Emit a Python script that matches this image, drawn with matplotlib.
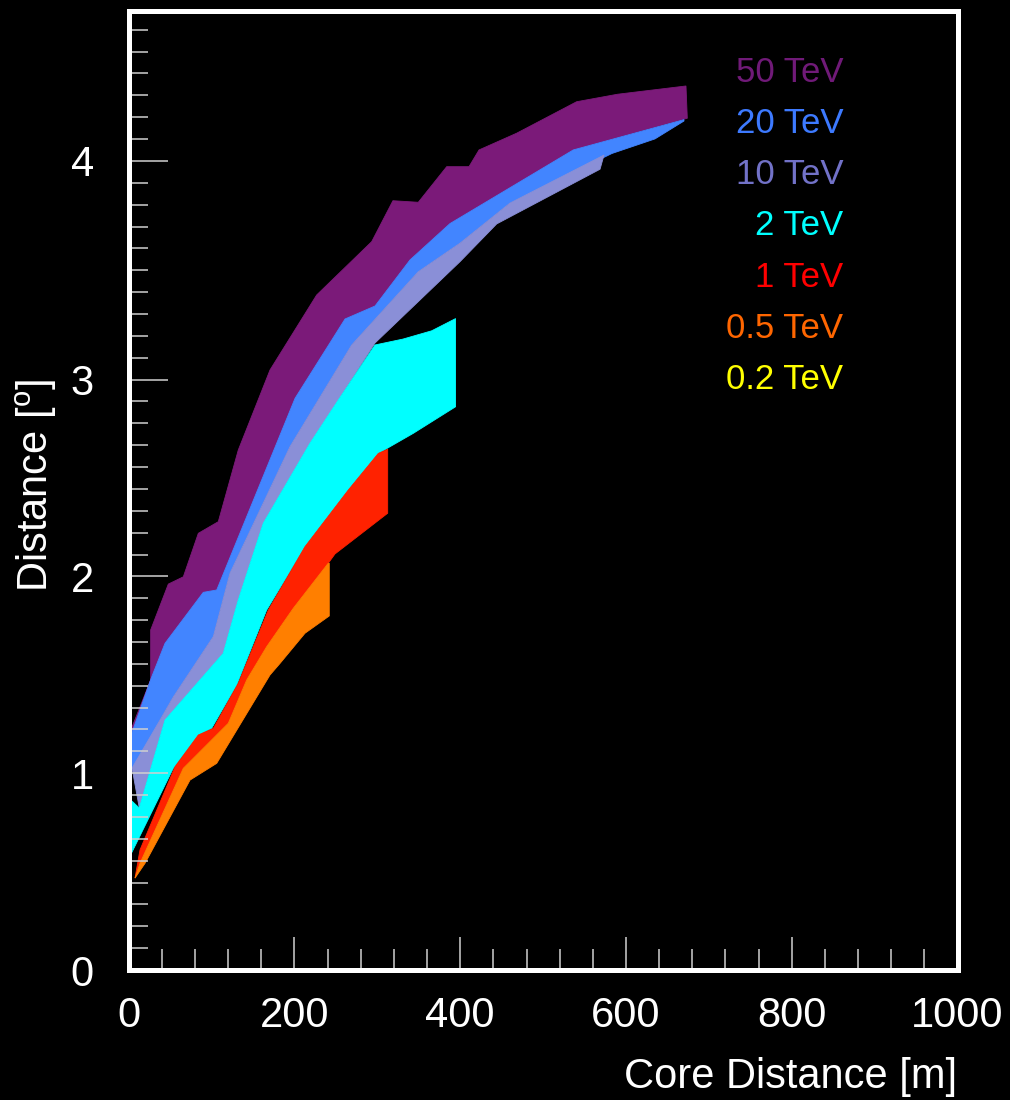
import matplotlib.pyplot as plt
from matplotlib.ticker import MultipleLocator, FixedLocator

plt.rcParams['font.family'] = ['Liberation Sans', 'DejaVu Sans']
plt.rcParams['mathtext.default'] = 'regular'

# band edges: x = core distance [m], y = distance [deg]
e50_up_x = [3.6, 26.5, 26.5, 47.8, 65.9, 84.0, 108.1, 132.2, 170.5, 226.8, 293.2, 318.8, 349.4, 383.7, 410.6, 422.7, 468.1, 540.5, 589.8, 672.4]
e50_up_y = [1.23, 1.474, 1.728, 1.961, 1.998, 2.219, 2.278, 2.642, 3.049, 3.430, 3.701, 3.909, 3.901, 4.082, 4.082, 4.167, 4.252, 4.412, 4.450, 4.492]
e50_lo_x = [3.6, 27.8, 43.8, 90.0, 106.2, 200.7, 261.0, 297.2, 339.4, 387.7, 536.4, 674.0]
e50_lo_y = [1.203, 1.490, 1.660, 1.919, 1.931, 2.905, 3.308, 3.374, 3.608, 3.793, 4.167, 4.328]

e20_up_x = [3.6, 27.8, 43.8, 90.0, 106.2, 200.7, 261.0, 297.2, 339.4, 387.7, 536.4, 670.0]
e20_up_y = [1.203, 1.490, 1.660, 1.919, 1.931, 2.905, 3.308, 3.374, 3.608, 3.793, 4.167, 4.321]
e20_lo_x = [2.8, 7.6, 37.8, 53.8, 102.1, 122.2, 194.6, 269.1, 349.4, 399.7, 460.1, 583.1, 635.0, 670.0]
e20_lo_y = [1.026, 1.016, 1.270, 1.387, 1.694, 2.016, 2.659, 3.176, 3.548, 3.693, 3.897, 4.149, 4.223, 4.314]

e10_up_x = [4.0, 37.8, 53.8, 102.1, 122.2, 194.6, 269.1, 349.4, 399.7, 460.1, 573.5]
e10_up_y = [1.026, 1.270, 1.387, 1.694, 2.016, 2.659, 3.176, 3.548, 3.693, 3.897, 4.141]
e10_lo_x = [12.8, 43.8, 114.1, 132.2, 162.4, 218.7, 252.9, 297.2, 399.7, 444.0, 568.7]
e10_lo_y = [0.823, 1.270, 1.609, 1.880, 2.270, 2.676, 2.896, 3.186, 3.599, 3.791, 4.069]

e2_up_x = [0.0, 12.8, 43.8, 114.1, 132.2, 162.4, 218.7, 252.9, 297.2, 331.0, 365.6, 394.4]
e2_up_y = [0.874, 0.823, 1.270, 1.609, 1.880, 2.270, 2.676, 2.896, 3.176, 3.206, 3.248, 3.310]
e2_lo_x = [0.0, 53.8, 84.0, 100.1, 130.3, 166.5, 212.7, 265.0, 301.2, 343.4, 394.4]
e2_lo_y = [0.565, 1.025, 1.194, 1.228, 1.448, 1.829, 2.151, 2.439, 2.625, 2.727, 2.862]

e1_up_x = [7.6, 13.6, 55.9, 84.0, 102.1, 132.2, 168.4, 212.7, 265.0, 301.2, 312.5]
e1_up_y = [0.467, 0.610, 1.033, 1.194, 1.228, 1.457, 1.829, 2.151, 2.439, 2.625, 2.646]
e1_lo_x = [7.6, 13.6, 65.9, 120.2, 142.4, 166.5, 198.6, 240.8, 248.9, 312.5]
e1_lo_y = [0.467, 0.542, 1.025, 1.254, 1.474, 1.643, 1.838, 2.067, 2.114, 2.321]

e05_up_x = [7.6, 13.6, 65.9, 120.2, 142.4, 166.5, 198.6, 240.8, 242.0]
e05_up_y = [0.467, 0.542, 1.025, 1.254, 1.474, 1.643, 1.838, 2.067, 2.067]
e05_lo_x = [7.6, 19.7, 74.0, 106.2, 170.5, 182.6, 212.7, 242.0]
e05_lo_y = [0.467, 0.542, 0.965, 1.050, 1.499, 1.558, 1.711, 1.799]

bands = [
    (e50_up_x, e50_up_y, e50_lo_x, e50_lo_y, '#7b1a79'),
    (e20_up_x, e20_up_y, e20_lo_x, e20_lo_y, '#4285ff'),
    (e10_up_x, e10_up_y, e10_lo_x, e10_lo_y, '#8a8fd7'),
    (e2_up_x, e2_up_y, e2_lo_x, e2_lo_y, '#00ffff'),
    (e1_up_x, e1_up_y, e1_lo_x, e1_lo_y, '#ff2200'),
    (e05_up_x, e05_up_y, e05_lo_x, e05_lo_y, '#ff7f00'),
]

labels = ['50 TeV', '20 TeV', '10 TeV', '2 TeV', '1 TeV', '0.5 TeV', '0.2 TeV']
label_colors = ['#701a78', '#3d7aff', '#7272c8', '#00ffff', '#ff0000', '#ff6600', '#ffff00']

y_major = [0, 1, 2, 3, 37 / 9]
y_major_labels = ['0', '1', '2', '3', '4']

fig = plt.figure(figsize=(10.1, 11), dpi=100, facecolor='black')
ax = fig.add_axes([128.7 / 1010, 130 / 1100, 828.8 / 1010, 959 / 1100])
ax.set_facecolor('black')

for up_x, up_y, lo_x, lo_y, c in bands:
    xs = up_x + lo_x[::-1]
    ys = up_y + lo_y[::-1]
    ax.fill(xs, ys, color=c, ec=c, lw=0.6)

ax.set_xlim(0, 1000)
ax.set_ylim(0, 959 / 196.8)

ax.xaxis.set_major_locator(MultipleLocator(200))
ax.xaxis.set_minor_locator(MultipleLocator(40))
ax.yaxis.set_major_locator(FixedLocator(y_major))
ax.yaxis.set_minor_locator(MultipleLocator(1 / 9))
ax.set_yticklabels(y_major_labels)

for s in ax.spines.values():
    s.set_color('white')
    s.set_linewidth(3.6)

ax.tick_params(axis='x', which='major', direction='in', length=23.5, width=1.1,
               color='#d0d0d0', labelcolor='white', labelsize=30, pad=19)
ax.tick_params(axis='x', which='minor', direction='in', length=15, width=1.1, color='#d0d0d0')
ax.tick_params(axis='y', which='major', direction='in', length=28, width=1.1,
               color='#d0d0d0', labelcolor='white', labelsize=30, pad=25)
ax.tick_params(axis='y', which='minor', direction='in', length=13.5, width=1.1, color='#d0d0d0')

fig.text(957 / 1010, 1 - 1077 / 1100, 'Core Distance [m]', color='white', fontsize=30,
         ha='right', va='center')
fig.text(36 / 1010, 1 - 485 / 1100, 'Distance [$^{o}$]', color='white', fontsize=30,
         ha='center', va='center', rotation=90)

for i, (lab, c) in enumerate(zip(labels, label_colors)):
    fig.text(843 / 1010, 1 - (72 + i * 51.3) / 1100, lab, color=c, fontsize=25,
             ha='right', va='center')

fig.savefig('out.png', dpi=100, facecolor='black')
